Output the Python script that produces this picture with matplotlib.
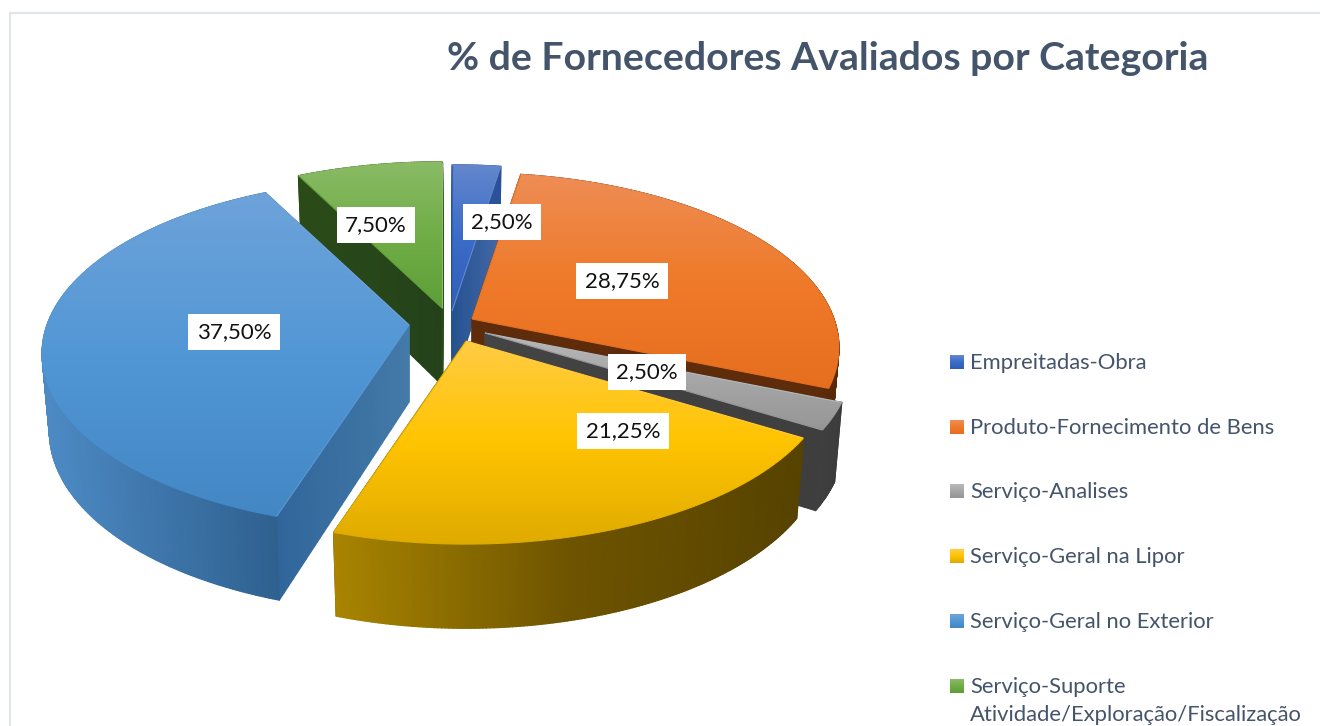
import numpy as np
import matplotlib
matplotlib.use('Agg')
import matplotlib.pyplot as plt
from matplotlib.collections import LineCollection, PolyCollection
from matplotlib.colors import LinearSegmentedColormap
from matplotlib.patches import Polygon

# data
categories = ['Empreitadas-Obra', 'Produto-Fornecimento de Bens', 'Serviço-Analises',
              'Serviço-Geral na Lipor', 'Serviço-Geral no Exterior',
              'Serviço-Suporte\nAtividade/Exploração/Fiscalização']
values = [2.50, 28.75, 2.50, 21.25, 37.50, 7.50]
title = '% de Fornecedores Avaliados por Categoria'

# look of each slice, pixels of the 1320x726 picture
apex = [(452, 311), (472, 319), (485, 333), (466, 341), (409, 325), (442, 308)]
label_pos = [(502, 222), (622, 281), (647, 372), (623, 431), (234, 332), (376, 225)]
top_colors = [['#6487cd', '#3a6cc8', '#2f5fb8'],
              ['#ee8d55', '#ef7a2a', '#e66f1f'],
              ['#b8b8b8', '#a6a6a6', '#969696'],
              ['#ffcc45', '#ffc400', '#e0ab00'],
              ['#6ea3da', '#5297d5', '#4387c5'],
              ['#8abb66', '#70ad47', '#5f9f38']]
wall_colors = [['#2a5199', '#2a5199'], ['#5e2c0a', '#5a2a08'], ['#404040', '#3c3c3c'],
               ['#a88400', '#6e5400', '#574300'], ['#4d8ac4', '#2e608f'], ['#2a4a18', '#2a4a18']]
cut_colors = [['#26518f', '#4268a8'], ['#5e2c0a', '#5e2c0a'], ['#444444', '#3e3e3e'],
              ['#574300', '#574300'], ['#30669a', '#447aa8'], ['#2a4a18', '#24421a']]
draw_order = [5, 0, 1, 2, 3, 4]  # back to front

R = 362     # half width
Q = 170     # half height
K = 0.163   # perspective
DEPTH = 77

fig = plt.figure(figsize=(13.2, 7.26), dpi=100)
ax = fig.add_axes([0, 0, 1, 1])
ax.set_xlim(0, 1320)
ax.set_ylim(726, 0)
ax.axis('off')
plt.rcParams['font.family'] = ['Lato', 'DejaVu Sans']

# thin frame of the chart area
ax.plot([10, 10, 1320], [726, 13, 13], color='#e2e6ea', lw=1.6, zorder=1)


def project(theta, ctr):
    # theta in degrees, clockwise from the top of the pie
    t = np.radians(theta)
    u, v = np.sin(t), -np.cos(t)
    d = 1 - K * v
    return ctr[0] + R * u / d, ctr[1] + Q * v / d, d


def lower(x, y, d, ctr):
    return ctr[0] + (x - ctr[0]) * 0.98, y + DEPTH / np.sqrt(d)


def strips(xa, ya, xb, yb, cols, z):
    # wall made of small quads, colour running left to right
    cmap = LinearSegmentedColormap.from_list('w', cols)
    lo, hi = min(xa.min(), xb.min()), max(xa.max(), xb.max())
    quads, fc = [], []
    for i in range(len(xa) - 1):
        quads.append([(xa[i], ya[i]), (xa[i + 1], ya[i + 1]), (xb[i + 1], yb[i + 1]), (xb[i], yb[i])])
        fc.append(cmap((0.5 * (xa[i] + xa[i + 1]) - lo) / max(hi - lo, 1)))
    ax.add_collection(PolyCollection(quads, facecolors=fc, edgecolors=fc, linewidths=0.9, zorder=z))


def top_face(x, y, cols, z):
    cmap = LinearSegmentedColormap.from_list('t', cols)
    y0, y1 = y.min(), y.max()
    grad = np.linspace(0, 1, 256).reshape(-1, 1)
    im = ax.imshow(grad, cmap=cmap, extent=[x.min(), x.max(), y1, y0], aspect='auto', zorder=z)
    clip = Polygon(np.column_stack([x, y]), closed=True, fc='none', ec='none', zorder=z)
    ax.add_patch(clip)
    im.set_clip_path(clip)
    # soft outline so the clipped edge is not jagged
    px, py = np.append(x, x[0]), np.append(y, y[0])
    segs = np.stack([np.column_stack([px[:-1], py[:-1]]), np.column_stack([px[1:], py[1:]])], axis=1)
    ax.add_collection(LineCollection(segs, colors=cmap((py[:-1] - y0) / (y1 - y0)), linewidths=0.8, zorder=z + 0.1))


edges = np.concatenate([[0], np.cumsum(values)]) * 3.6
for n, i in enumerate(draw_order):
    ctr = apex[i]
    z = 10 + n * 2
    th = np.linspace(edges[i], edges[i + 1], max(int(edges[i + 1] - edges[i]) * 2, 10))
    x, y, d = project(th, ctr)
    xb, yb = lower(x, y, d, ctr)

    # cut faces
    ctr_low = (ctr[0], ctr[1] + DEPTH)
    for end in [0, -1]:
        s = np.linspace(0, 1, 30)
        cx = ctr[0] + (x[end] - ctr[0]) * s
        cy = ctr[1] + (y[end] - ctr[1]) * s
        cbx = ctr_low[0] + (xb[end] - ctr_low[0]) * s
        cby = ctr_low[1] + (yb[end] - ctr_low[1]) * s
        strips(cx, cy, cbx, cby, cut_colors[i], z)

    # outer wall
    strips(x, y, xb, yb, wall_colors[i], z + 0.5)

    top_face(np.concatenate([[ctr[0]], x]), np.concatenate([[ctr[1]], y]), top_colors[i], z + 1)

# value labels
for v, pos in zip(values, label_pos):
    ax.text(pos[0], pos[1], ('%.2f%%' % v).replace('.', ','), fontsize=16, color='#111111',
            ha='center', va='center', zorder=40,
            bbox=dict(boxstyle='square,pad=0.38', fc='white', ec='none'))

# legend
leg_y = [362, 427, 491, 556, 621, 686]
for name, ly, cols in zip(categories, leg_y, top_colors):
    cmap = LinearSegmentedColormap.from_list('l', cols)
    ax.imshow(np.linspace(0, 1, 16).reshape(-1, 1), cmap=cmap, extent=[950, 964, ly + 7, ly - 7],
              aspect='auto', zorder=5)
    ax.text(970, ly - 9, name, fontsize=15.8, color='#44546a', ha='left', va='top',
            linespacing=1.48, zorder=5)

ax.text(827.5, 58, title, fontsize=28.3, fontweight='bold', color='#44546a', ha='center', va='center', zorder=5)

ax.set_xlim(0, 1320)
ax.set_ylim(726, 0)
fig.savefig('out.png', dpi=100)
